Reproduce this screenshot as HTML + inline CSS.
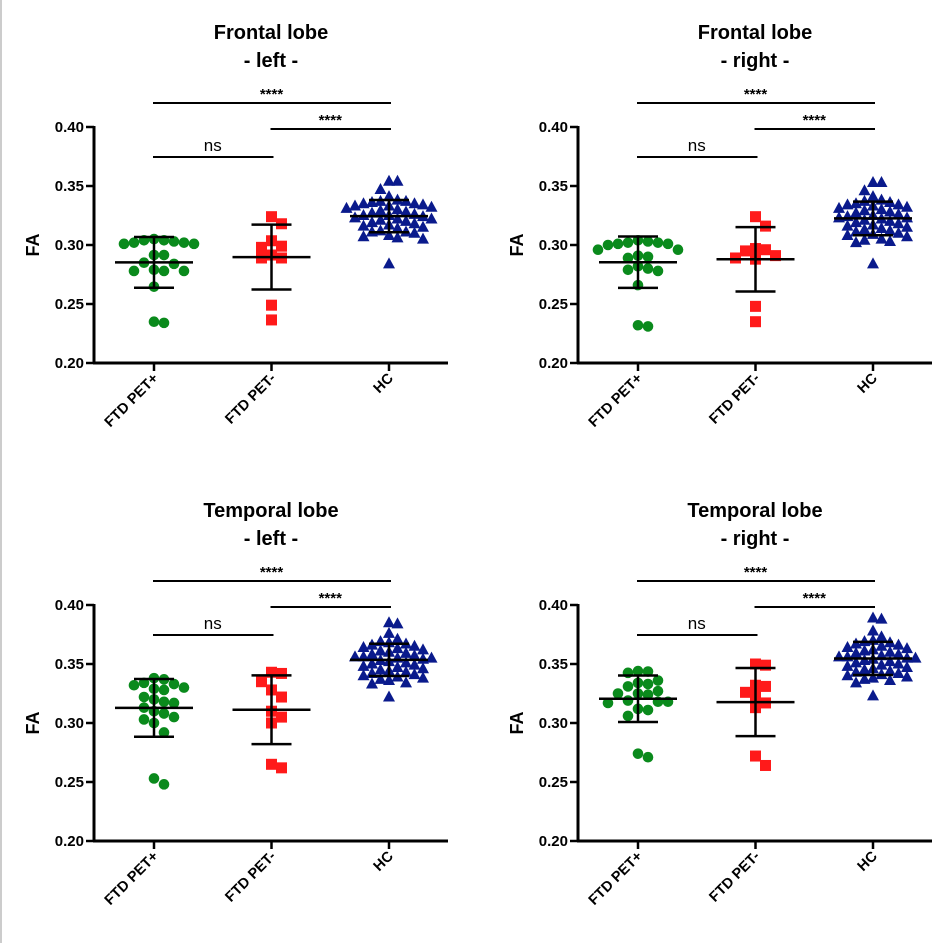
<!DOCTYPE html>
<html><head><meta charset="utf-8">
<style>
html,body{margin:0;padding:0;background:#fff;}
svg{display:block;font-family:"Liberation Sans",Arial,sans-serif;}
</style></head>
<body>
<svg id="chart" width="945" height="943" viewBox="0 0 945 943">
<rect x="0" y="0" width="945" height="943" fill="#fff"/>
<line x1="1" y1="0" x2="1" y2="943" stroke="#ccc" stroke-width="2"/>
</svg>
<script>
const categories = ["FTD PET+", "FTD PET-", "HC"];
const yTicks = [0.20, 0.25, 0.30, 0.35, 0.40];
const yTickLabels = ["0.20", "0.25", "0.30", "0.35", "0.40"];
const titles = [["Frontal lobe","- left -"],["Frontal lobe","- right -"],["Temporal lobe","- left -"],["Temporal lobe","- right -"]];
const sigLabels = ["****", "****", "ns"];

const fl_pos = [0.303,0.302,0.301,0.304,0.305,0.301,0.302,0.304,0.2915,0.2915,0.284,0.285,0.278,0.278,0.278,0.279,0.2647,0.234,0.235];
const fl_neg = [0.324,0.318,0.3036,0.298,0.299,0.2915,0.289,0.289,0.249,0.2365];
const fl_hc = [0.354,0.354,0.347,0.341,0.338,0.337,0.337,0.335,0.336,0.335,0.334,0.333,0.333,0.332,0.331,0.330,0.329,0.328,0.327,0.326,0.325,0.325,0.324,0.323,0.322,0.322,0.321,0.320,0.319,0.318,0.317,0.316,0.315,0.314,0.312,0.311,0.311,0.310,0.308,0.307,0.306,0.305,0.284];

const fr_pos = [0.303,0.302,0.301,0.304,0.302,0.301,0.300,0.296,0.296,0.291,0.290,0.289,0.282,0.280,0.279,0.278,0.266,0.232,0.231];
const fr_neg = [0.324,0.316,0.297,0.296,0.295,0.291,0.289,0.288,0.248,0.235];
const fr_hc = [0.353,0.353,0.346,0.341,0.338,0.337,0.336,0.335,0.334,0.334,0.333,0.332,0.331,0.330,0.329,0.328,0.327,0.326,0.325,0.324,0.323,0.323,0.322,0.321,0.320,0.319,0.318,0.317,0.316,0.315,0.314,0.313,0.312,0.311,0.310,0.309,0.308,0.307,0.305,0.304,0.303,0.302,0.284];

const tl_pos = [0.338,0.337,0.334,0.333,0.332,0.330,0.329,0.328,0.322,0.320,0.318,0.317,0.313,0.310,0.308,0.305,0.303,0.300,0.292,0.253,0.248];
const tl_neg = [0.343,0.342,0.335,0.328,0.322,0.310,0.305,0.300,0.265,0.262];
const tl_hc = [0.385,0.384,0.376,0.371,0.369,0.368,0.367,0.366,0.365,0.364,0.363,0.362,0.361,0.360,0.359,0.358,0.357,0.356,0.356,0.355,0.355,0.354,0.353,0.352,0.351,0.350,0.349,0.348,0.347,0.346,0.345,0.344,0.343,0.342,0.341,0.340,0.339,0.338,0.337,0.336,0.334,0.333,0.322];

const tr_pos = [0.3436,0.3425,0.3440,0.336,0.333,0.331,0.334,0.325,0.325,0.327,0.324,0.319,0.318,0.318,0.317,0.312,0.311,0.306,0.274,0.271];
const tr_neg = [0.350,0.349,0.332,0.331,0.326,0.323,0.317,0.313,0.272,0.264];
const tr_hc = [0.389,0.388,0.378,0.373,0.370,0.369,0.368,0.367,0.366,0.365,0.364,0.363,0.362,0.361,0.360,0.359,0.358,0.357,0.356,0.356,0.355,0.355,0.354,0.353,0.352,0.351,0.350,0.349,0.348,0.347,0.346,0.345,0.344,0.343,0.342,0.341,0.340,0.339,0.338,0.337,0.336,0.334,0.323];

const panelData = [[fl_pos,fl_neg,fl_hc],[fr_pos,fr_neg,fr_hc],[tl_pos,tl_neg,tl_hc],[tr_pos,tr_neg,tr_hc]];

const NS = "http://www.w3.org/2000/svg";
const svg = document.getElementById("chart");
function mk(tag, attrs, parent){
  const e = document.createElementNS(NS, tag);
  for (const k in attrs) e.setAttribute(k, attrs[k]);
  (parent||svg).appendChild(e);
  return e;
}
const colors = ["#0a8a1c","#ff1a1a","#0a1a8c"];

function drawPanel(p, ox, oy){
  const g = mk("g", {});
  
  
  const x0 = ox, yTop = oy, yBot = oy + 236;
  const yScale = v => yBot - (v - 0.20) / 0.20 * 236;
  const xScale = i => x0 + 60 + i * 117.5;
  titles[p].forEach((t, k) => {
    const tt = mk("text", {x: x0 + 177, y: oy - 88 + k * 28, "text-anchor": "middle", "font-size": 20, "font-weight": "bold", fill: "#000"}, g);
    tt.textContent = t;
    
    
  });
  const sig = [[0,2,oy-24],[1,2,oy+2],[0,1,oy+30]];
  sig.forEach((s, k) => {
    const l = mk("line", {x1: xScale(s[0]) - 1, x2: xScale(s[1]) + 2, y1: s[2], y2: s[2], stroke: "#000", "stroke-width": 2}, g);
    
    
    const t = mk("text", {x: (xScale(s[0]) + xScale(s[1])) / 2, y: s[2] - (k===2 ? 6 : 4), "text-anchor": "middle", "font-size": k===2 ? 17 : 15, "font-weight": k===2 ? "normal" : "bold", fill: "#000"}, g);
    t.textContent = sigLabels[k];
    
    
  });
  const ya = mk("line", {x1: x0, x2: x0, y1: yTop - 1, y2: yBot + 1, stroke: "#000", "stroke-width": 3}, g);
  
  
  const xa = mk("line", {x1: x0 - 1, x2: x0 + 354, y1: yBot, y2: yBot, stroke: "#000", "stroke-width": 3}, g);
  
  
  yTicks.forEach((v, i) => {
    const y = yScale(v);
    mk("line", {x1: x0 - 8, x2: x0, y1: y, y2: y, stroke: "#000", "stroke-width": 2.5}, g);
    const t = mk("text", {x: x0 - 10, y: y + 5, "text-anchor": "end", "font-size": 15, "font-weight": "bold", fill: "#000"}, g);
    t.textContent = yTickLabels[i];
    
    
  });
  const yl = mk("text", {x: 0, y: 0, transform: `translate(${x0-55},${(yTop+yBot)/2}) rotate(-90)`, "text-anchor": "middle", "font-size": 18, "font-weight": "bold", fill: "#000"}, g);
  yl.textContent = "FA";
  
  
  categories.forEach((c, i) => {
    const x = xScale(i);
    mk("line", {x1: x, x2: x, y1: yBot, y2: yBot + 8, stroke: "#000", "stroke-width": 2.5}, g);
    const t = mk("text", {x: 0, y: 0, transform: `translate(${x+5},${yBot+16}) rotate(-45)`, "text-anchor": "end", "font-size": 14.5, "font-weight": "bold", fill: "#000"}, g);
    t.textContent = c;
    
    
  });
  panelData[p].forEach((vals, i) => {
    const cx = xScale(i);
    const placed = [];
    const sorted = vals.slice().sort((a, b) => b - a);
    const d = i === 2 ? 8.5 : 10;
    const step = i === 2 ? 8.5 : 10;
    sorted.forEach(v => {
      const y = yScale(v);
      let off = 0;
      for (let k = 0; k < 60; k++) {
        const cand = k === 0 ? 0 : (k % 2 ? 1 : -1) * Math.ceil(k / 2) * step;
        if (placed.every(q => Math.hypot(q[0] - (cx + cand), q[1] - y) >= d)) { off = cand; break; }
      }
      const px = cx + off;
      placed.push([px, y]);
      let m;
      if (i === 0) m = mk("circle", {cx: px, cy: y, r: 5.3, fill: colors[0]}, g);
      else if (i === 1) m = mk("rect", {x: px - 5.5, y: y - 5.5, width: 11, height: 11, fill: colors[1]}, g);
      else m = mk("polygon", {points: `${px},${y-6.5} ${px+6},${y+4.5} ${px-6},${y+4.5}`, fill: colors[2]}, g);
      
      
    });
    const n = vals.length;
    const mean = vals.reduce((a, b) => a + b, 0) / n;
    const sd = Math.sqrt(vals.reduce((a, b) => a + (b - mean) ** 2, 0) / (n - 1));
    const ym = yScale(mean), yh = yScale(mean + sd), ylo = yScale(mean - sd);
    const eb = mk("g", {stroke: "#000", "stroke-width": 2.5}, g);
    
    
    mk("line", {x1: cx - 39, x2: cx + 39, y1: ym, y2: ym}, eb);
    mk("line", {x1: cx - 20, x2: cx + 20, y1: yh, y2: yh}, eb);
    mk("line", {x1: cx - 20, x2: cx + 20, y1: ylo, y2: ylo}, eb);
    mk("line", {x1: cx, x2: cx, y1: yh, y2: ylo}, eb);
  });
}
drawPanel(0, 94, 127);
drawPanel(1, 578, 127);
drawPanel(2, 94, 605);
drawPanel(3, 578, 605);
</script>
</body></html>
